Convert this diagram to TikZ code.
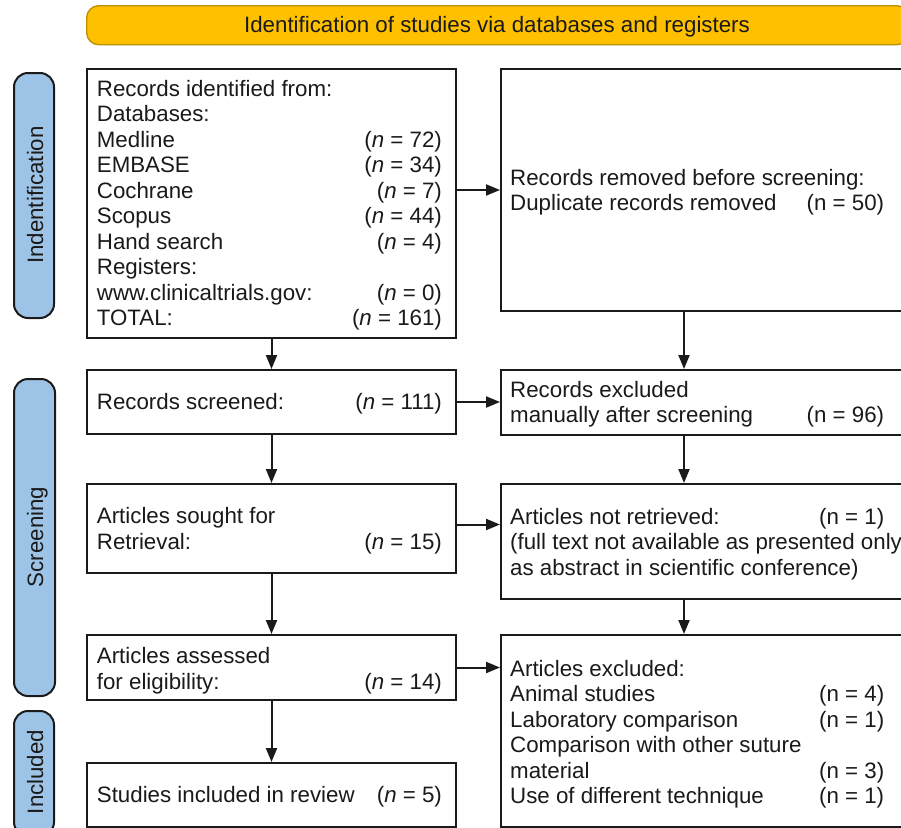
\documentclass[tikz,border=0pt]{standalone}
\usepackage{fontspec}
\setmainfont{Liberation Sans}
\usetikzlibrary{arrows.meta}
\definecolor{ink}{HTML}{1A1A1A}
\definecolor{gold}{HTML}{FFC000}
\definecolor{goldline}{HTML}{BF9000}
\definecolor{pillblue}{HTML}{9DC3E6}
\newcommand\tb[2]{\begin{tabular*}{#1}[t]{@{}l@{\extracolsep{\fill}}r@{}}#2\end{tabular*}}
\newcommand\ml[1]{\multicolumn{2}{@{}l@{}}{\rlap{#1}}}
\newcommand\nit{\textit{n}}
\tikzset{
  boxnode/.style={draw=ink, line width=2pt, fill=white, anchor=north west, inner sep=0pt},
  pill/.style={draw=ink, line width=2pt, fill=pillblue, rounded corners=14pt, anchor=north west, inner sep=0pt},
  banner/.style={draw=goldline, line width=1.4pt, fill=gold, rounded corners=12pt, anchor=north west, inner sep=0pt},
  txt/.style={anchor=base west, inner sep=0pt, text=ink},
  vlabel/.style={anchor=base, inner sep=0pt, rotate=90, text=ink},
  arr/.style={draw=ink, line width=2pt, -{Triangle[length=14pt,width=11pt]}},
}
\begin{document}
\begin{tikzpicture}[x=1pt, y=-1pt, font=\fontsize{22.3}{25.5}\selectfont]
\useasboundingbox (0,0) rectangle (901,827);
\clip (0,0) rectangle (901,827);
% banner
\node[banner, minimum width=822pt, minimum height=39pt] (ban) at (86,5) {};
\node[anchor=base, inner sep=0pt, text=ink] (bantxt) at (497,32.5) {Identification of studies via databases and registers};
% side pills
\node[pill, minimum width=40pt, minimum height=245pt] (pid) at (13,72) {};
\node[vlabel] (pidtxt) at (43,195) {Indentification};
\node[pill, minimum width=41pt, minimum height=317pt] (psc) at (13,378) {};
\node[vlabel] (psctxt) at (43,537) {Screening};
\node[pill, minimum width=40pt, minimum height=125pt] (pin) at (13,710) {};
\node[vlabel] (pintxt) at (43,772) {Included};
% boxes
\node[boxnode, minimum width=369pt, minimum height=269pt] (b1) at (86,68) {};
\node[boxnode, minimum width=420pt, minimum height=242pt] (r1) at (500,68) {};
\node[boxnode, minimum width=369pt, minimum height=64pt] (s1) at (86,369) {};
\node[boxnode, minimum width=420pt, minimum height=65pt] (e1) at (500,369) {};
\node[boxnode, minimum width=369pt, minimum height=89pt] (a1) at (86,483) {};
\node[boxnode, minimum width=420pt, minimum height=115pt] (n1) at (500,483) {};
\node[boxnode, minimum width=369pt, minimum height=65pt] (as) at (86,634) {};
\node[boxnode, minimum width=420pt, minimum height=192pt] (ex) at (500,634) {};
\node[boxnode, minimum width=369pt, minimum height=64pt] (st) at (86,762) {};
% texts
\node[txt] (b1t) at (96.7,96) {\tb{345pt}{\ml{Records identified from:}\\ \ml{Databases:}\\ Medline & (\nit{} = 72)\\ EMBASE & (\nit{} = 34)\\ Cochrane & (\nit{} = 7)\\ Scopus & (\nit{} = 44)\\ Hand search & (\nit{} = 4)\\ \ml{Registers:}\\ www.clinicaltrials.gov: & (\nit{} = 0)\\ TOTAL: & (\nit{} = 161)}};
\node[txt] (r1t) at (510,185) {\tb{374pt}{\ml{Records removed before screening:}\\ Duplicate records removed & (n = 50)}};
\node[txt] (s1t) at (96.7,409.5) {\tb{345pt}{Records screened: & (\nit{} = 111)}};
\node[txt] (e1t) at (510,397) {\tb{374pt}{\ml{Records excluded}\\ manually after screening & (n = 96)}};
\node[txt] (a1t) at (96.7,523.5) {\tb{345pt}{\ml{Articles sought for}\\ Retrieval: & (\nit{} = 15)}};
\node[txt] (n1t) at (510,524) {\tb{374pt}{Articles not retrieved: & (n = 1)\\ \ml{(full text not available as presented only}\\ \ml{as abstract in scientific conference)}}};
\node[txt] (ast) at (96.7,663.5) {\tb{345pt}{\ml{Articles assessed}\\ for eligibility: & (\nit{} = 14)}};
\node[txt] (ext) at (510,676) {\tb{374pt}{\ml{Articles excluded:}\\ Animal studies & (n = 4)\\ Laboratory comparison & (n = 1)\\ \ml{Comparison with other suture}\\ material & (n = 3)\\ Use of different technique & (n = 1)}};
\node[txt] (stt) at (96.7,802) {\tb{345pt}{Studies included in review & (\nit{} = 5)}};
% horizontal arrows
\draw[arr] (b1.east |- r1.west) -- (r1.west);
\draw[arr] (s1.east) -- (s1.east -| e1.west);
\draw[arr] ([yshift=4pt]a1.east) -- ([yshift=4pt]a1.east -| n1.west);
\draw[arr] (as.east) -- (as.east -| ex.west);
% vertical arrows
\draw[arr] (b1.south) -- (s1.north);
\draw[arr] (s1.south) -- (a1.north);
\draw[arr] (a1.south) -- (as.north);
\draw[arr] (as.south) -- (st.north);
\draw[arr] ([xshift=184pt]r1.south west) -- ([xshift=184pt]e1.north west);
\draw[arr] ([xshift=184pt]e1.south west) -- ([xshift=184pt]n1.north west);
\draw[arr] ([xshift=184pt]n1.south west) -- ([xshift=184pt]ex.north west);
\end{tikzpicture}
\end{document}
